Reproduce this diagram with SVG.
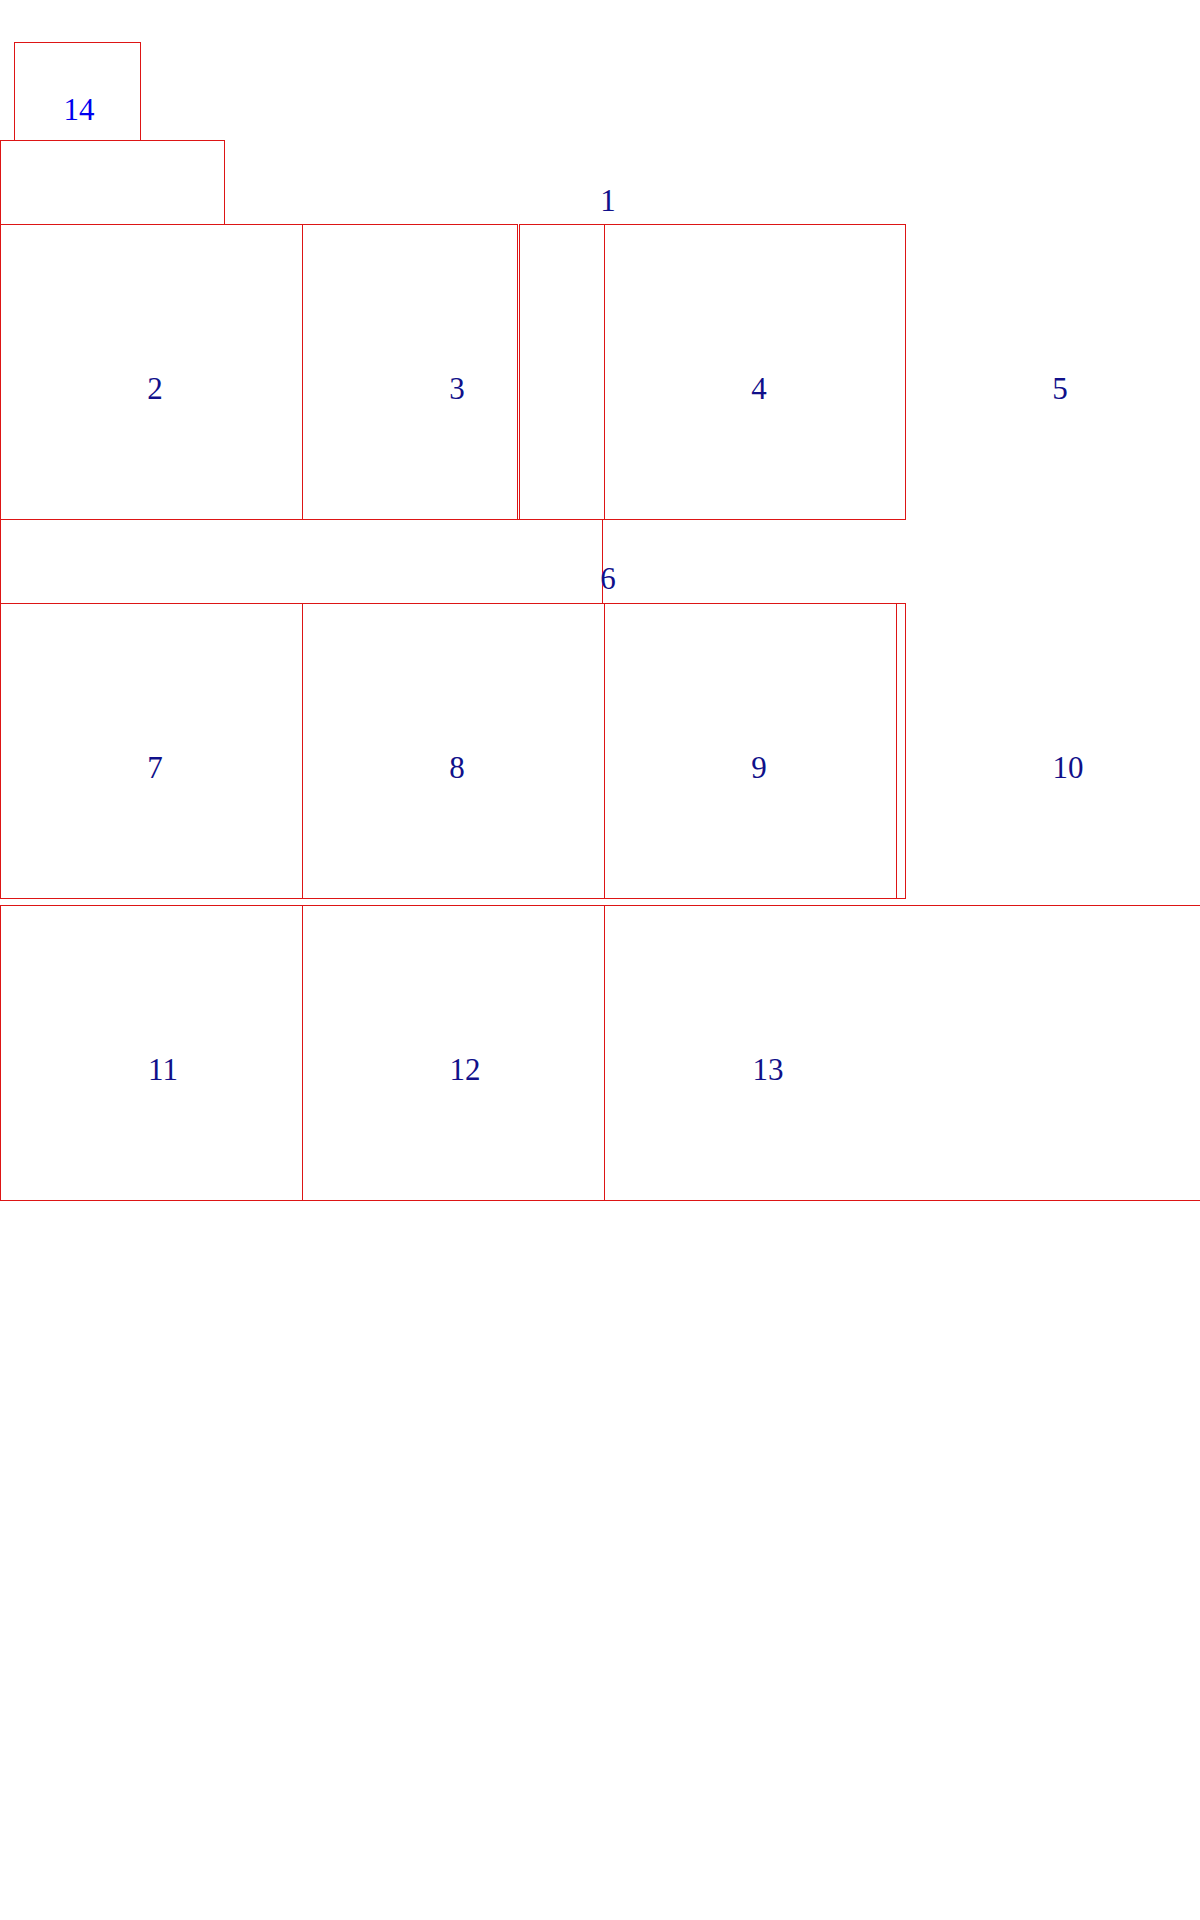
<svg xmlns="http://www.w3.org/2000/svg" width="1200" height="1920" viewBox="0 0 1200 1920">
<style>
.b{fill:none;stroke:#dd1515;stroke-width:1}
.t{font-family:"Liberation Serif","Times New Roman",serif;font-size:31px;fill:#10108a;text-anchor:middle}
.t2{fill:#0000ee}
</style>
<rect x="0" y="0" width="1200" height="1920" fill="#ffffff"/>
<g id="n14"><rect class="b" x="14.5" y="42.5" width="126" height="98"/><text class="t t2" x="79" y="120">14</text></g>
<g id="n14base"><rect class="b" x="0.5" y="140.5" width="224" height="84"/></g>
<g id="n1"><text class="t" x="608" y="211">1</text><rect class="b" x="519.5" y="224.5" width="386" height="295"/></g>
<g id="n2"><rect class="b" x="0.5" y="224.5" width="302" height="295"/><text class="t" x="155" y="399">2</text></g>
<g id="n3"><rect class="b" x="302.5" y="224.5" width="215" height="295"/><text class="t" x="457" y="399">3</text></g>
<g id="n4"><rect class="b" x="604.5" y="224.5" width="301" height="295"/><text class="t" x="759" y="399">4</text></g>
<g id="n5"><text class="t" x="1060" y="399">5</text></g>
<g id="n6"><rect class="b" x="0.5" y="519.5" width="602" height="84"/><text class="t" x="608" y="589">6</text></g>
<g id="n7"><rect class="b" x="0.5" y="603.5" width="302" height="295"/><text class="t" x="155" y="778">7</text></g>
<g id="n8"><rect class="b" x="302.5" y="603.5" width="302" height="295"/><text class="t" x="457" y="778">8</text></g>
<g id="n9"><rect class="b" x="604.5" y="603.5" width="292" height="295"/><rect class="b" x="604.5" y="603.5" width="301" height="295"/><text class="t" x="759" y="778">9</text></g>
<g id="n10"><text class="t" x="1068" y="778">10</text></g>
<g id="n11"><rect class="b" x="0.5" y="905.5" width="302" height="295"/><text class="t" x="163" y="1080">11</text></g>
<g id="n12"><rect class="b" x="302.5" y="905.5" width="302" height="295"/><text class="t" x="465" y="1080">12</text></g>
<g id="n13"><rect class="b" x="604.5" y="905.5" width="620" height="295"/><text class="t" x="768" y="1080">13</text></g>
<g id="connectors"></g>
</svg>
